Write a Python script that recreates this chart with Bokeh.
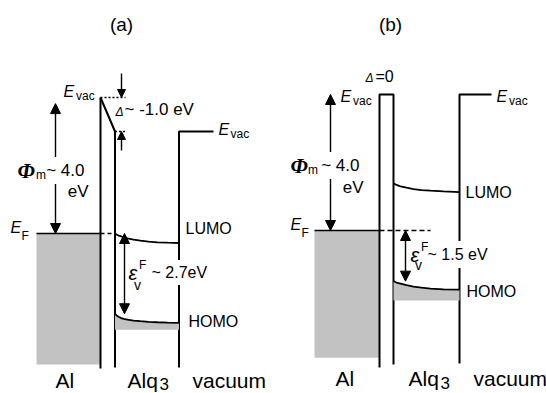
from bokeh.plotting import figure
from bokeh.models import Range1d, Label, Arrow, NormalHead
from bokeh.embed import file_html
from bokeh.resources import INLINE

# ---------------- data (energies in eV, relative to E_F) ----------------
panel_titles = ["(a)", "(b)"]
phi_m = [4.0, 4.0]            # metal work function
delta = [-1.0, 0.0]           # interface dipole
phi_arrow_top = [3.82, 4.0]   # tip of the work-function arrow as drawn
phi_text = ["~ 4.0", "~ 4.0"]
delta_text = ["~ -1.0 eV", "=0"]
eps_text = ["~ 2.7eV", "~ 1.5 eV"]
layer_names = ["Al", "Alq", "vacuum"]
level_names = ["LUMO", "HOMO"]

# band-bending curves: position (px) and energy (eV)
lumo_a_x = [114.5, 116, 118, 120, 123, 127, 133, 140, 148, 157, 167, 178.5]
lumo_a_e = [0.0, -0.03, -0.06, -0.08, -0.11, -0.14, -0.18, -0.21, -0.24, -0.26, -0.27, -0.28]
homo_a_x = [114.5, 116, 118, 120, 123, 127, 133, 140, 148, 157, 167, 178.5]
homo_a_e = [-2.36, -2.41, -2.45, -2.48, -2.51, -2.53, -2.56, -2.58, -2.60, -2.61, -2.62, -2.63]
homo_a_floor = -2.83
lumo_b_x = [393, 396, 400, 406, 413, 421, 430, 443, 459]
lumo_b_e = [1.39, 1.34, 1.30, 1.26, 1.22, 1.19, 1.17, 1.15, 1.13]
homo_b_x = [393, 396, 400, 406, 413, 421, 430, 443, 459]
homo_b_e = [-1.49, -1.53, -1.56, -1.61, -1.65, -1.68, -1.71, -1.73, -1.74]
homo_b_floor = -2.06
metal_floor = [-3.85, -3.74]
wall_floor_a = [-3.97, -3.94, -3.94]   # Al edge, Alq edge, vacuum edge
wall_floor_b = [-4.03, -3.94, -3.91]

# ---------------- layout ----------------
PX = 34.0                         # pixels per eV
EF_PX = {"a": 233.0, "b": 230.0}  # picture row of E_F in each panel
W, H = 546, 393
SANS = "Liberation Sans"
SERIF = "Liberation Serif"
GRAY = "#c2c2c2"

def ey(panel, py):
    return (EF_PX[panel] - py) / PX

p = figure(width=W, height=H, x_range=Range1d(0, W),
           y_range=Range1d(ey("a", H), ey("a", 0)),
           output_backend="svg", toolbar_location=None,
           x_axis_location=None, y_axis_location=None, min_border=0)
p.extra_y_ranges = {"b": Range1d(ey("b", H), ey("b", 0))}
p.grid.visible = False
p.outline_line_color = None
p.background_fill_color = "white"
p.border_fill_color = "white"

WALL = 2.0
CURVE = 1.8

# ======== panel (a) ========
pa, da = phi_m[0], delta[0]
p.quad(left=36, right=100, top=0, bottom=metal_floor[0], fill_color=GRAY, line_color=None)
p.line([36, 100], [0, 0], line_color="black", line_width=1.6)
p.line([100, 114.5], [0, 0], line_color="black", line_width=1.4, line_dash="4 3")
p.line([100, 100], [pa, wall_floor_a[0]], line_color="black", line_width=WALL)
p.line([100, 114.5, 114.5], [pa, pa + da, wall_floor_a[1]], line_color="black", line_width=WALL)
p.line([213, 178.5, 178.5], [pa + da, pa + da, wall_floor_a[2]], line_color="black", line_width=WALL)
p.line([100, 125], [pa, pa], line_color="black", line_width=1.4, line_dash="2 2")
p.line([114.5, 126], [pa + da, pa + da], line_color="black", line_width=1.4, line_dash="2 2")
p.varea(x=homo_a_x, y1=homo_a_e, y2=[homo_a_floor] * len(homo_a_x), fill_color=GRAY)
p.line(homo_a_x, homo_a_e, line_color="black", line_width=CURVE)
p.line(lumo_a_x, lumo_a_e, line_color="black", line_width=CURVE)

# ======== panel (b) ========
pb, db = phi_m[1], delta[1]
p.quad(left=314, right=379, top=0, bottom=metal_floor[1], fill_color=GRAY, line_color=None, y_range_name="b")
p.line([314, 379], [0, 0], line_color="black", line_width=1.6, y_range_name="b")
p.line([379, 430], [0, 0], line_color="black", line_width=1.4, line_dash="5 3", y_range_name="b")
p.line([379, 379, 393, 393], [wall_floor_b[0], pb, pb + db, wall_floor_b[1]],
       line_color="black", line_width=WALL, y_range_name="b")
p.line([491, 459, 459], [pb + db, pb + db, wall_floor_b[2]], line_color="black", line_width=WALL, y_range_name="b")
p.varea(x=homo_b_x, y1=homo_b_e, y2=[homo_b_floor] * len(homo_b_x), fill_color=GRAY, y_range_name="b")
p.line(homo_b_x, homo_b_e, line_color="black", line_width=CURVE, y_range_name="b")
p.line(lumo_b_x, lumo_b_e, line_color="black", line_width=CURVE, y_range_name="b")

# ---------------- arrows ----------------
def head(s):
    return NormalHead(size=s, fill_color="black", line_color="black", line_width=1)

def arrow(x, y0, y1, rng, both=True, s=10):
    p.add_layout(Arrow(x_start=x, y_start=y0, x_end=x, y_end=y1,
                       start=head(s) if both else None, end=head(s),
                       line_width=1.4, line_color="black", y_range_name=rng))

arrow(55, 0, phi_arrow_top[0], "default")
arrow(121, ey("a", 73), pa, "default", both=False, s=8)
arrow(121, ey("a", 150), pa + da, "default", both=False, s=8)
arrow(124, 0, homo_a_e[0], "default")
arrow(330, 0, phi_arrow_top[1], "b")
arrow(405, 0, homo_b_e[0], "b")

# ---------------- text ----------------
def put(text, x, py, panel, size, align="left", style="normal", font=SANS, bg=False, pad=3):
    lab = Label(x=x, y=ey(panel, py), text=text, text_font=font,
                text_font_size=f"{size}px", text_font_style=style,
                text_align=align, text_baseline="middle", text_color="black",
                y_range_name="default" if panel == "a" else "b")
    if bg:
        lab.background_fill_color = "white"
        lab.padding = pad
    p.add_layout(lab)

# panel (a)
put(panel_titles[0], 121, 24, "a", 19, align="center")
put("E", 63, 91, "a", 16, style="italic")
put("vac", 75.5, 95, "a", 12)
put("E", 218, 129, "a", 16, style="italic")
put("vac", 230, 133, "a", 12)
put("Δ", 115, 111, "a", 12, style="italic")
put(delta_text[0], 124, 109, "a", 17)
put(phi_text[0], 88, 170, "a", 17, align="right", bg=True, pad=4)
put("Φ", 17, 170, "a", 22, style="bold italic", font=SERIF)
put("m", 35.5, 174, "a", 12)
put("eV", 88, 191, "a", 17, align="right")
put("E", 10, 227, "a", 16, style="italic")
put("F", 21, 235, "a", 12)
put(level_names[0], 185, 228, "a", 16)
put(level_names[1], 188, 321, "a", 16)
put(eps_text[0], 147, 272, "a", 16, bg=True, pad=4)
put("ε", 128, 272, "a", 20, style="italic")
put("F", 138.5, 264, "a", 12)
put("v", 133.5, 284, "a", 14)
put(layer_names[0], 55, 380, "a", 21)
put(layer_names[1], 127, 380, "a", 21)
put("3", 159, 383, "a", 17)
put(layer_names[2], 192, 380, "a", 21)

# panel (b)
put(panel_titles[1], 390, 24, "b", 19, align="center")
put("Δ", 365, 77, "b", 12, style="italic")
put(delta_text[1], 375, 76, "b", 16)
put("E", 340, 96, "b", 16, style="italic")
put("vac", 352.5, 100, "b", 12)
put("E", 496, 96, "b", 16, style="italic")
put("vac", 508.5, 100, "b", 12)
put(phi_text[1], 363, 165, "b", 17, align="right", bg=True, pad=4)
put("Φ", 290, 165, "b", 22, style="bold italic", font=SERIF)
put("m", 307.5, 169, "b", 12)
put("eV", 363, 187, "b", 17, align="right")
put("E", 290, 224, "b", 16, style="italic")
put("F", 301, 232, "b", 12)
put(level_names[0], 465, 192, "b", 16)
put(level_names[1], 466, 291, "b", 16)
put(eps_text[1], 422, 254, "b", 16, bg=True, pad=5)
put("ε", 410, 254, "b", 20, style="italic")
put("F", 420.5, 246, "b", 12)
put("v", 414.5, 264, "b", 14)
put(layer_names[0], 335, 378, "b", 21)
put(layer_names[1], 408, 378, "b", 21)
put("3", 440, 382, "b", 17)
put(layer_names[2], 473, 378, "b", 21)

open("out.html", "w").write(file_html(p, INLINE))
